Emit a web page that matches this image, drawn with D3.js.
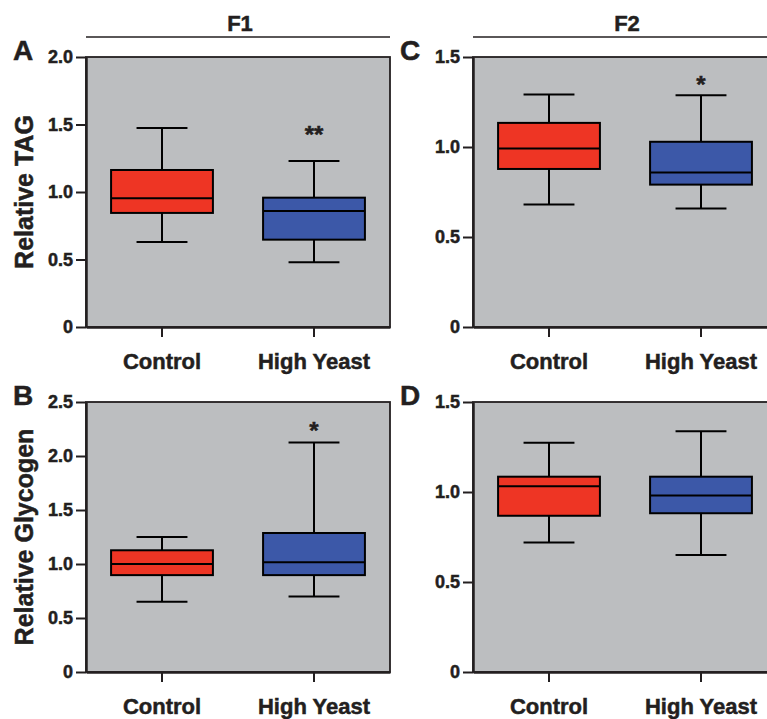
<!DOCTYPE html>
<meta charset="utf-8">
<script src="https://d3js.org/d3.v7.min.js"></script>
<style>
  body { margin: 0; background: #fff; }
  text { font-family: "Liberation Sans", Arial, Helvetica, sans-serif; font-weight: bold; fill: #231f20; stroke: #231f20; stroke-width: 0.5px; }
</style>
<div id="chart"></div>
<script>
// groups on the x axis
const groups = ["Control", "High Yeast"];

// five-number summaries per group: [min, q1, median, q3, max]
const tagF1 = [[0.63, 0.845, 0.953, 1.163, 1.474], [0.48, 0.647, 0.859, 0.958, 1.23]];
const glycogenF1 = [[0.65, 0.897, 1.0, 1.127, 1.25], [0.70, 0.897, 1.017, 1.287, 2.125]];
const tagF2 = [[0.681, 0.878, 0.992, 1.134, 1.291], [0.659, 0.791, 0.858, 1.029, 1.288]];
const glycogenF2 = [[0.72, 0.868, 1.032, 1.085, 1.273], [0.65, 0.882, 0.98, 1.085, 1.338]];

// significance marks: [label, value where it sits] for the High Yeast group
const sigTagF1 = ["**", 1.47];
const sigGlycogenF1 = ["*", 2.29];
const sigTagF2 = ["*", 1.38];
const sigGlycogenF2 = null;

// tick labels
const ticks20 = [0, 0.5, 1.0, 1.5, 2.0];
const ticks25 = [0, 0.5, 1.0, 1.5, 2.0, 2.5];
const ticks15 = [0, 0.5, 1.0, 1.5];

const colors = ["#ee3524", "#3c58a8"];

const width = 767, height = 719;
const svg = d3.select("#chart").append("svg")
  .attr("width", width)
  .attr("height", height);

const pw = 304, ph = 270;

const panels = [
  {letter: "A", left: 86, top: 57, ymax: 2.0, ticks: ticks20, data: tagF1, sig: sigTagF1, ylabel: "Relative TAG"},
  {letter: "B", left: 86, top: 402, ymax: 2.5, ticks: ticks25, data: glycogenF1, sig: sigGlycogenF1, ylabel: "Relative Glycogen"},
  {letter: "C", left: 473, top: 57, ymax: 1.5, ticks: ticks15, data: tagF2, sig: sigTagF2, ylabel: null},
  {letter: "D", left: 473, top: 402, ymax: 1.5, ticks: ticks15, data: glycogenF2, sig: sigGlycogenF2, ylabel: null}
];

// column headers
[["F1", 86], ["F2", 473]].forEach(([t, left]) => {
  svg.append("text")
    .attr("x", left + pw / 2 + 2)
    .attr("y", 31)
    .attr("text-anchor", "middle")
    .style("font-size", "22px")
    .text(t);
  svg.append("line")
    .attr("x1", left).attr("x2", left + pw)
    .attr("y1", 37).attr("y2", 37)
    .attr("stroke", "#231f20")
    .attr("stroke-width", 1.5);
});

panels.forEach(p => {
  const g = svg.append("g").attr("transform", `translate(${p.left},${p.top})`);

  const x = d3.scaleBand().domain(groups).range([0, pw]);
  const y = d3.scaleLinear().domain([0, p.ymax]).range([ph, 0]);

  // plot background
  g.append("rect")
    .attr("width", pw).attr("height", ph)
    .attr("fill", "#bcbec0")
    .attr("stroke", "#231f20")
    .attr("stroke-width", 1.8);

  // y axis
  const ya = g.append("g")
    .call(d3.axisLeft(y).tickValues(p.ticks)
      .tickFormat(d => d === 0 ? "0" : d3.format(".1f")(d))
      .tickSize(10).tickSizeOuter(0).tickPadding(3));
  ya.select(".domain").attr("stroke", "#231f20").attr("stroke-width", 2.5);
  ya.selectAll(".tick line").attr("stroke", "#231f20").attr("stroke-width", 2);
  ya.selectAll("text").style("font-size", "18px").attr("fill", "#231f20");

  // x axis
  const xa = g.append("g")
    .attr("transform", `translate(0,${ph})`)
    .call(d3.axisBottom(x).tickSize(10).tickSizeOuter(0).tickPadding(16));
  xa.select(".domain").attr("stroke", "#231f20").attr("stroke-width", 2.5);
  xa.selectAll(".tick line").attr("stroke", "#231f20").attr("stroke-width", 2);
  xa.selectAll("text").style("font-size", "22px").attr("fill", "#231f20");

  // boxes
  const bw = x.bandwidth() * 0.67;
  const cw = x.bandwidth() * 0.335;
  const box = g.selectAll(".box")
    .data(p.data)
    .join("g")
    .attr("transform", (d, i) => `translate(${x(groups[i]) + x.bandwidth() / 2},0)`);

  box.append("line")
    .attr("y1", d => y(d[0])).attr("y2", d => y(d[4]))
    .attr("stroke", "#000").attr("stroke-width", 2);
  box.append("line")
    .attr("x1", -cw / 2).attr("x2", cw / 2)
    .attr("y1", d => y(d[4])).attr("y2", d => y(d[4]))
    .attr("stroke", "#000").attr("stroke-width", 2);
  box.append("line")
    .attr("x1", -cw / 2).attr("x2", cw / 2)
    .attr("y1", d => y(d[0])).attr("y2", d => y(d[0]))
    .attr("stroke", "#000").attr("stroke-width", 2);
  box.append("rect")
    .attr("x", -bw / 2).attr("width", bw)
    .attr("y", d => y(d[3]))
    .attr("height", d => y(d[1]) - y(d[3]))
    .attr("fill", (d, i) => colors[i])
    .attr("stroke", "#000").attr("stroke-width", 2);
  box.append("line")
    .attr("x1", -bw / 2).attr("x2", bw / 2)
    .attr("y1", d => y(d[2])).attr("y2", d => y(d[2]))
    .attr("stroke", "#000").attr("stroke-width", 2);

  // significance
  if (p.sig) {
    g.append("text")
      .attr("x", x(groups[1]) + x.bandwidth() / 2)
      .attr("y", y(p.sig[1]) + 14)
      .attr("text-anchor", "middle")
      .style("font-size", "24px")
      .text(p.sig[0]);
  }

  // panel letter
  svg.append("text")
    .attr("x", p.left - 73)
    .attr("y", p.top + 3)
    .style("font-size", "28px")
    .text(p.letter);

  // y label
  if (p.ylabel) {
    svg.append("text")
      .attr("transform", `translate(33,${p.top + ph / 2}) rotate(-90)`)
      .attr("text-anchor", "middle")
      .style("font-size", "25px")
      .text(p.ylabel);
  }
});
</script>
